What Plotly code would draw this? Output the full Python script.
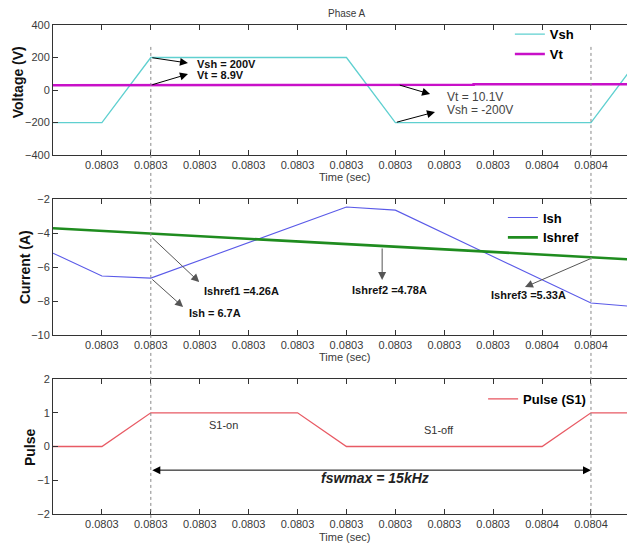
import plotly.graph_objects as go

# ---------------- data ----------------
tick_vals = [0.080305, 0.080310, 0.080315, 0.080320, 0.080325, 0.080330,
             0.080335, 0.080340, 0.080345, 0.080350, 0.080355]
tick_text = ["0.0803", "0.0803", "0.0803", "0.0803", "0.0803", "0.0803",
             "0.0803", "0.0803", "0.0803", "0.0804", "0.0804"]
x_range = [0.080300, 0.0803595]

vsh_t = [0.080300, 0.080305, 0.080310, 0.080330, 0.080335, 0.080355, 0.080360]
vsh = [-200, -200, 200, 200, -200, -200, 200]

vt_t = [0.080300, 0.080323, 0.080323, 0.080343, 0.080343, 0.080360]
vt = [30, 30, 33, 33, 36, 36]

ish_t = [0.080300, 0.080305, 0.080310, 0.080330, 0.080335, 0.080355, 0.080360]
ish = [-5.18, -6.53, -6.65, -2.47, -2.65, -8.12, -8.35]

ishref_t = [0.080300, 0.080360]
ishref = [-3.72, -5.58]

pulse_t = [0.080300, 0.080305, 0.080310, 0.080325, 0.080330, 0.080350, 0.080355, 0.080360]
pulse = [0, 0, 1, 1, 0, 0, 1, 1]

v_ticks = [-400, -200, 0, 200, 400]
i_ticks = [-10, -8, -6, -4, -2]
p_ticks = [-2, -1, 0, 1, 2]

marker_times = [0.080310, 0.080355]

# ---------------- figure ----------------
NARROW = "Liberation Sans Narrow, Arial Narrow, Liberation Sans, Arial, sans-serif"
SANS = "Liberation Sans, Arial, sans-serif"
GRAY = "#3a3a3a"

fig = go.Figure()
fig.add_trace(go.Scatter(x=vsh_t, y=vsh, mode="lines", name="Vsh",
                         line=dict(color="#5fd0d0", width=1.3), xaxis="x", yaxis="y", legend="legend"))
fig.add_trace(go.Scatter(x=vt_t, y=vt, mode="lines", name="Vt",
                         line=dict(color="#c810c8", width=2.5), xaxis="x", yaxis="y", legend="legend"))
fig.add_trace(go.Scatter(x=ish_t, y=ish, mode="lines", name="Ish",
                         line=dict(color="#5a5ae8", width=1.1), xaxis="x2", yaxis="y2", legend="legend2"))
fig.add_trace(go.Scatter(x=ishref_t, y=ishref, mode="lines", name="Ishref",
                         line=dict(color="#1f8c1f", width=2.6), xaxis="x2", yaxis="y2", legend="legend2"))
fig.add_trace(go.Scatter(x=pulse_t, y=pulse, mode="lines", name="Pulse (S1)",
                         line=dict(color="#e85a64", width=1.3), xaxis="x3", yaxis="y3", legend="legend3"))

def xax(anchor):
    return dict(range=x_range, tickvals=tick_vals, ticktext=tick_text, ticks="inside",
                ticklen=5, tickcolor="#333", showline=True, linecolor="#333", linewidth=1,
                mirror="ticks", showgrid=False, zeroline=False, anchor=anchor, automargin=False,
                tickfont=dict(family=NARROW, size=11, color=GRAY), domain=[0, 1])

def yax(dom, rng, tv, anchor):
    return dict(domain=dom, range=rng, tickvals=tv, ticks="inside", ticklen=5, tickcolor="#333",
                showline=True, linecolor="#333", linewidth=1, showgrid=False, zeroline=False,
                anchor=anchor, automargin=False, tickfont=dict(family=NARROW, size=11, color=GRAY))

leg_common = dict(bgcolor="rgba(0,0,0,0)", borderwidth=0, itemwidth=30,
                  font=dict(family=SANS, size=13, color="#000", weight="bold"), tracegroupgap=0,
                  xanchor="left", yanchor="top")

# the page body adds an 8px offset, so the figure is sized to end at the window edge
fig.update_layout(
    width=627, height=538,
    margin=dict(l=45, r=0, t=17, b=32, autoexpand=False),
    paper_bgcolor="white", plot_bgcolor="white",
    xaxis=xax("y"), xaxis2=xax("y2"), xaxis3=xax("y3"),
    yaxis=yax([0.734, 1.0], [-400, 400], v_ticks, "x"),
    yaxis2=yax([0.366, 0.644], [-10, -2], i_ticks, "x2"),
    yaxis3=yax([0.0, 0.276], [-2, 2], p_ticks, "x3"),
    legend=dict(x=0.785, y=1.012, **leg_common),
    legend2=dict(x=0.773, y=0.637, **leg_common),
    legend3=dict(x=0.739, y=0.266, **leg_common),
    showlegend=True,
)
for t in marker_times:
    fig.add_shape(type="line", xref="x", yref="paper", x0=t, x1=t, y0=-0.008, y1=0.961,
                  line=dict(color="#888", width=1, dash="dot"), layer="above")

anns = []
def text(s, x, y, xr, yr, size=12, bold=False, color="#111", xanchor="left", family=NARROW, italic=False):
    if bold:
        s = "<b>" + s + "</b>"
    if italic:
        s = "<i>" + s + "</i>"
    anns.append(dict(text=s, x=x, y=y, xref=xr, yref=yr, showarrow=False, xanchor=xanchor,
                     yanchor="middle", font=dict(family=family, size=size, color=color)))

def arrow(tx, ty, hx, hy, xr, yr, color="#000", both=False):
    d = dict(text="", x=hx, y=hy, ax=tx, ay=ty, xref=xr, yref=yr, axref=xr, ayref=yr,
             showarrow=True, arrowhead=2, arrowsize=1.6, arrowwidth=1, arrowcolor=color)
    if both:
        d.update(arrowside="end+start", startarrowhead=2, startarrowsize=1.6)
    anns.append(d)

# panel 1
arrow(vsh_t[2], vsh[2], 0.0803138, 166, "x", "y")
arrow(0.080310, vt[0], 0.0803138, 98, "x", "y")
text("Vsh = 200V", 0.0803145, 162, "x", "y", size=11, bold=True)
text("Vt = 8.9V", 0.0803145, 92, "x", "y", size=11, bold=True)
arrow(0.0803353, vt[2], 0.08033855, -25, "x", "y")
arrow(vsh_t[4], vsh[4], 0.08033905, -135, "x", "y")
text("Vt = 10.1V", 0.0803401, -40, "x", "y", size=12, color="#444")
text("Vsh = -200V", 0.0803401, -125, "x", "y", size=12, color="#444")

# panel 2
arrow(0.080310, -4.2, 0.08031495, -6.88, "x2", "y2", color="#555")
text("Ishref1 =4.26A", 0.08031525, -7.41, "x2", "y2", size=11, bold=True)
arrow(ish_t[2], ish[2], 0.0803133, -8.35, "x2", "y2", color="#555")
text("Ish = 6.7A", 0.0803137, -8.70, "x2", "y2", size=11, bold=True)
arrow(0.08033365, -4.82, 0.08033365, -6.76, "x2", "y2", color="#555")
text("Ishref2 =4.78A", 0.08033035, -7.35, "x2", "y2", size=11, bold=True)
arrow(0.0803551, -5.47, 0.08034825, -7.18, "x2", "y2", color="#555")
text("Ishref3 =5.33A", 0.0803446, -7.65, "x2", "y2", size=11, bold=True)

# panel 3
text("S1-on", 0.0803174, 0.64, "x3", "y3", size=11, color="#333", xanchor="center")
text("S1-off", 0.08033945, 0.49, "x3", "y3", size=11, color="#333", xanchor="center")
arrow(marker_times[0], -0.70, marker_times[1], -0.70, "x3", "y3", both=True)
text("fswmax = 15kHz", 0.0803329, -0.93, "x3", "y3", size=14, bold=True, italic=True,
     xanchor="center", family=SANS, color="#222")

# axis titles / title
def ytitle(s, x, y):
    anns.append(dict(text="<b>" + s + "</b>", x=x, y=y, xref="paper", yref="paper", showarrow=False,
                     textangle=-90, xanchor="center", yanchor="middle",
                     font=dict(family=SANS, size=14, color="#111")))
ytitle("Voltage (V)", -0.060, 0.883)
ytitle("Current (A)", -0.048, 0.505)
ytitle("Pulse", -0.0395, 0.137)
for yy in [0.689, 0.321, -0.047]:
    text("Time (sec)", 0.502, yy, "paper", "paper", size=11, color=GRAY, xanchor="center")
text("Phase A", 0.505, 1.023, "paper", "paper", size=10, color=GRAY, xanchor="center")

fig.update_layout(annotations=anns)
fig.write_html("out.html")
